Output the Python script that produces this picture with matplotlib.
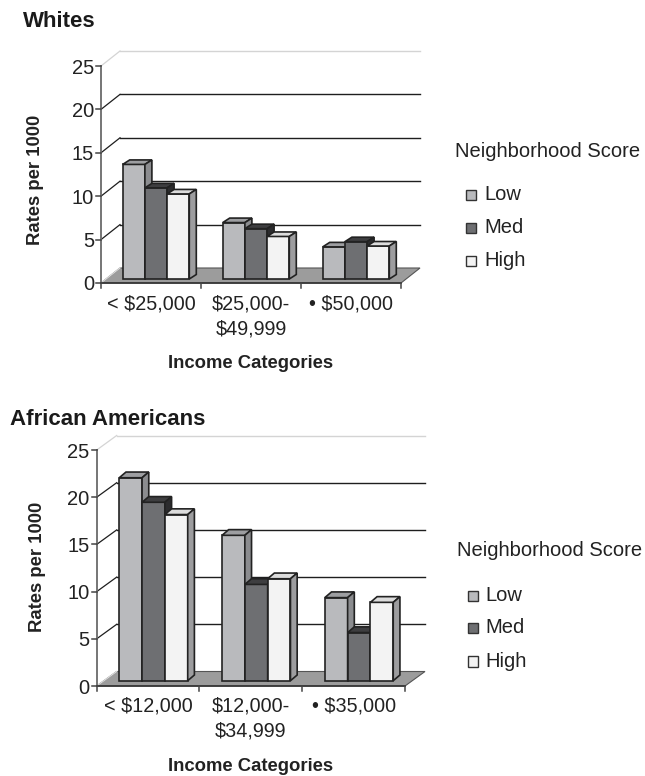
import matplotlib
matplotlib.use("Agg")
import matplotlib.pyplot as plt
from matplotlib.patches import Polygon, Rectangle
import matplotlib.transforms as mtransforms

plt.rcParams['font.family'] = ['Liberation Sans', 'DejaVu Sans']
plt.rcParams['text.parse_math'] = False

# ---------------- data ----------------
series_names = ["Low", "Med", "High"]
legend_title = "Neighborhood Score"
y_ticks = [0, 5, 10, 15, 20, 25]

whites_title = "Whites"
whites_categories = ["< $25,000", "$25,000-\n$49,999", "\u2022 $50,000"]
whites_low = [13.2, 6.5, 3.7]
whites_med = [10.5, 5.8, 4.3]
whites_high = [9.8, 4.9, 3.8]

aa_title = "African Americans"
aa_categories = ["< $12,000", "$12,000-\n$34,999", "\u2022 $35,000"]
aa_low = [21.5, 15.4, 8.8]
aa_med = [18.9, 10.2, 5.1]
aa_high = [17.6, 10.8, 8.3]

x_label = "Income Categories"
y_label = "Rates per 1000"

# ---------------- styles ----------------
front_colors = ["#b9babd", "#6e6f72", "#f3f3f3"]
top_colors = ["#9d9ea1", "#3e3e40", "#dcdcdc"]
side_colors = ["#8b8c8f", "#2c2c2e", "#9d9d9f"]
floor_color = "#9c9c9c"
edge = "#222222"

W, H = 645, 776
fig = plt.figure(figsize=(W / 100, H / 100), dpi=100)


def fx(px):
    return px / W


def fy(py):
    return 1 - py / H


def panel(title, title_xy, cats, low, med, high, ax_box, floor_px, shift_px,
          depth_px, xlab_base, xlabel_base, ylab_xy, leg_base, leg_x):
    left, right, top, bottom = ax_box
    ax = fig.add_axes([fx(left), fy(bottom), fx(right) - fx(left), fy(top) - fy(bottom)])
    ax.set_xlim(0, 3)
    ax.set_ylim(0, 25)
    ax.set_axis_off()
    wpx = right - left
    hpx = bottom - top
    ux = 3 / wpx
    uy = 25 / hpx
    Dx, Dy = floor_px[0] * ux, floor_px[1] * uy
    sx, sy = shift_px[0] * ux, shift_px[1] * uy
    bx, by = depth_px[0] * ux, depth_px[1] * uy

    # floor
    ax.add_patch(Polygon([(0, 0), (3, 0), (3 + Dx, Dy), (Dx, Dy)], closed=True,
                         facecolor=floor_color, edgecolor="#555555", lw=0.8,
                         clip_on=False, zorder=1))
    ax.plot([0, Dx], [0, Dy], color="#dddddd", lw=0.9, clip_on=False, zorder=1.5)
    # gridlines on back wall and left wall diagonals
    for v in y_ticks[1:]:
        col = "#d4d4d4" if v == y_ticks[-1] else "#1e1e1e"
        ax.plot([Dx, 3 + Dx], [v + Dy, v + Dy], color=col, lw=1.0, clip_on=False, zorder=1)
        ax.plot([0, Dx], [v, v + Dy], color=col, lw=0.9, clip_on=False, zorder=1)

    # axes lines
    ax.plot([0, 0], [0, 25], color="#6a6a6a", lw=1.3, clip_on=False, zorder=2)
    ax.plot([0, 3], [0, 0], color="#333333", lw=1.2, clip_on=False, zorder=2)
    tick = 5 * ux
    for v in y_ticks:
        ax.plot([-tick, 0], [v, v], color="#444444", lw=1.1, clip_on=False, zorder=2)
        ax.text(-7 * ux, v, str(v), ha="right", va="center_baseline", fontsize=14.5,
                color="#222222")
    for c in range(0, 4):
        ax.plot([c, c], [0, -5 * uy], color="#444444", lw=1.1, clip_on=False, zorder=2)

    # category labels (one text per line, baseline-aligned)
    trans = mtransforms.blended_transform_factory(ax.transData, fig.transFigure)
    for i, lab in enumerate(cats):
        for j, line in enumerate(lab.split("\n")):
            ax.text(i + 0.5, fy(xlab_base + 25 * j), line, transform=trans,
                    ha="center", va="baseline", fontsize=14.2, color="#222222")

    # bars
    bw = 0.222
    series = [low, med, high]
    for i in range(3):
        for k in range(3):
            v = series[k][i]
            x0 = i + 0.167 + k * bw + sx
            z = 3 + i * 3 + k
            ax.bar(x0, v, width=bw, bottom=sy, align="edge", color=front_colors[k],
                   edgecolor=edge, linewidth=1.2, zorder=z, clip_on=False)
            y0 = sy
            ax.add_patch(Polygon([(x0, y0 + v), (x0 + bw, y0 + v), (x0 + bw + bx, y0 + v + by),
                                  (x0 + bx, y0 + v + by)], closed=True,
                                 facecolor=top_colors[k], edgecolor=edge, lw=1.2,
                                 zorder=z, clip_on=False))
            ax.add_patch(Polygon([(x0 + bw, y0), (x0 + bw + bx, y0 + by),
                                  (x0 + bw + bx, y0 + v + by), (x0 + bw, y0 + v)],
                                 closed=True, facecolor=side_colors[k], edgecolor=edge,
                                 lw=1.2, zorder=z, clip_on=False))

    # titles / axis labels
    fig.text(fx(title_xy[0]), fy(title_xy[1]), title, fontsize=16, fontweight="bold",
             ha="left", va="baseline", color="#1a1a1a")
    fig.text(fx((left + right) / 2), fy(xlabel_base), x_label, fontsize=13.3,
             fontweight="bold", ha="center", va="baseline", color="#222222")
    fig.text(fx(ylab_xy[0]), fy(ylab_xy[1]), y_label, fontsize=13.3, fontweight="bold",
             rotation=90, ha="center", va="center", color="#222222")

    # legend
    fig.text(fx(leg_x - 11), fy(leg_base[0]), legend_title, fontsize=14.5, ha="left",
             va="baseline", color="#222222")
    for k, name in enumerate(series_names):
        b = leg_base[k + 1]
        fig.add_artist(Rectangle((fx(leg_x), fy(b)), fx(10), fy(0) - fy(10.5),
                                 transform=fig.transFigure, facecolor=front_colors[k],
                                 edgecolor="#333333", lw=1.0))
        fig.text(fx(leg_x + 18), fy(b), name, fontsize=14.5, ha="left",
                 va="baseline", color="#222222")
    return ax


panel(whites_title, (23, 27), whites_categories, whites_low, whites_med, whites_high,
      (101, 401, 66, 283), (19, 15), (5, 4), (7, 4.5), 309.3, 368.3, (35.5, 180),
      (156.7, 200, 233.3, 266), 466)

panel(aa_title, (10, 425), aa_categories, aa_low, aa_med, aa_high,
      (96.7, 405, 450, 686), (20, 14.5), (5.4, 5.3), (6.7, 5.7), 711.7, 770.7,
      (38, 566.7), (556, 601, 633.3, 666.7), 467.7)

fig.savefig("out.png", dpi=100, facecolor="white")
